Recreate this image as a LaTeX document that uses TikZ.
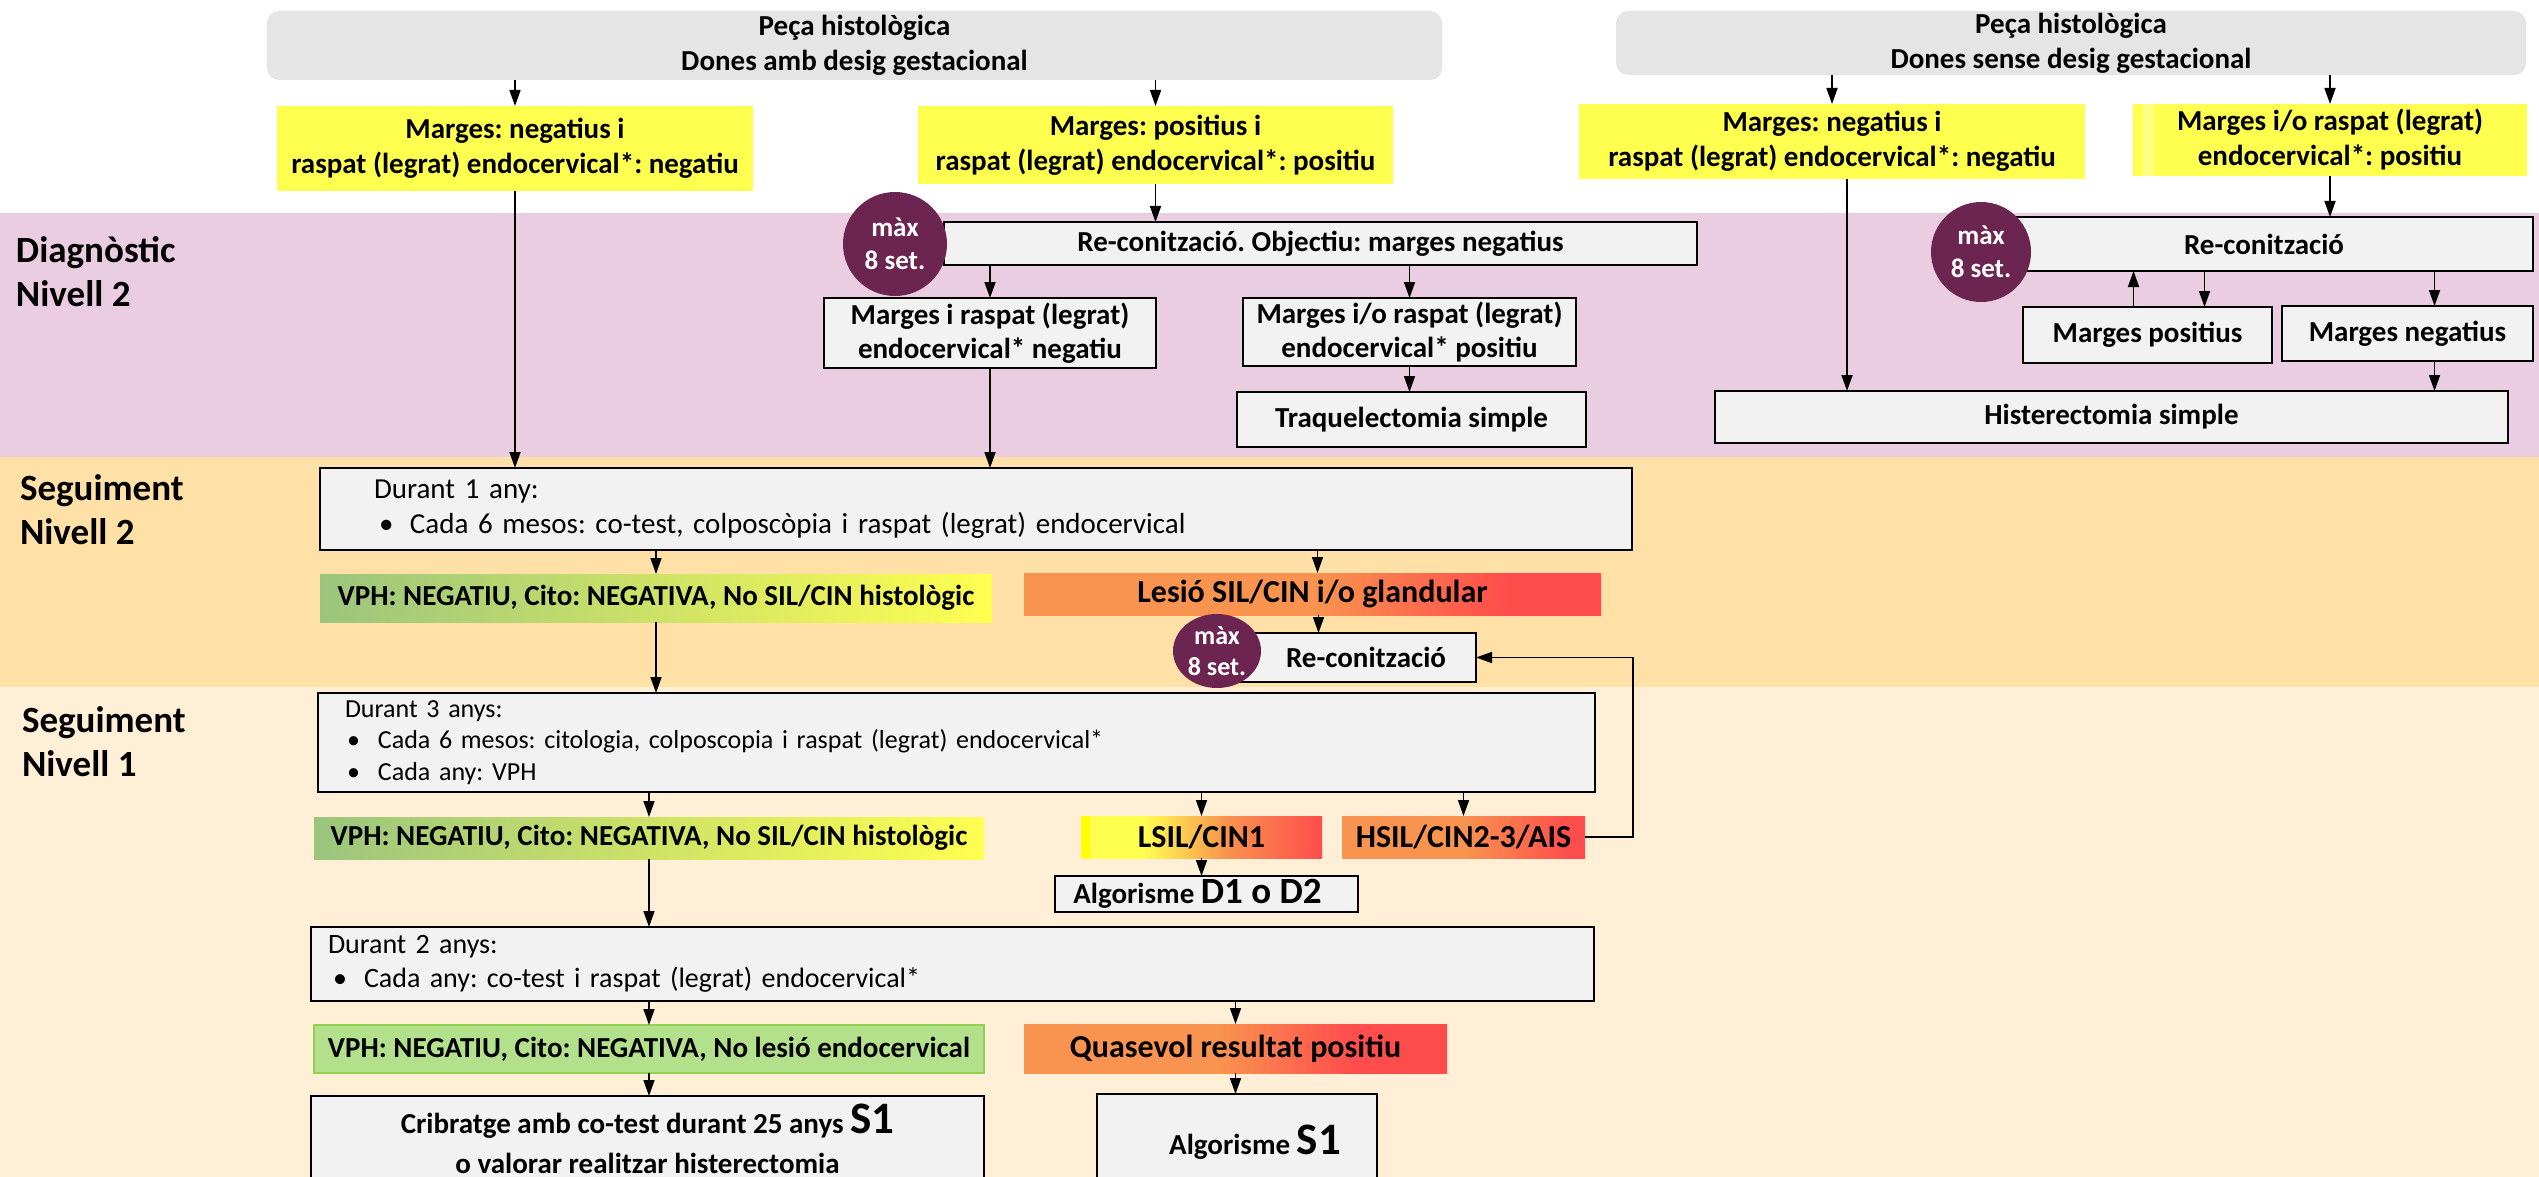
\documentclass[tikz,border=0pt]{standalone}
\usepackage{fontspec}
\setmainfont{Carlito}
\usetikzlibrary{arrows.meta,shapes.geometric}

% palette
\definecolor{bandpink}{HTML}{EBCDE2}
\definecolor{bandorange}{HTML}{FFE0A6}
\definecolor{bandcream}{HTML}{FFEFD7}
\definecolor{headgray}{HTML}{E5E5E5}
\definecolor{boxgray}{HTML}{F2F2F2}
\definecolor{hlyellow}{HTML}{FFFF50}
\definecolor{stripeyellow}{HTML}{FFFF88}
\definecolor{pureyellow}{HTML}{FFFF00}
\definecolor{plum}{HTML}{6B2550}
\definecolor{okgreen}{HTML}{9BC57E}
\definecolor{lightgreen}{HTML}{B3E08A}
\definecolor{greenedge}{HTML}{92D050}
\definecolor{warnorange}{HTML}{F8944F}
\definecolor{alertred}{HTML}{FF4C4C}

% horizontal colour ramps (the path spans 25bp..75bp)
\pgfdeclarehorizontalshading{greentoyellow}{100bp}{color(0bp)=(okgreen); color(25bp)=(okgreen); color(75bp)=(hlyellow); color(100bp)=(hlyellow)}
\pgfdeclarehorizontalshading{lesioramp}{100bp}{color(0bp)=(warnorange); color(25bp)=(warnorange); color(50bp)=(warnorange); color(67bp)=(alertred); color(100bp)=(alertred)}
\pgfdeclarehorizontalshading{lsilramp}{100bp}{color(0bp)=(hlyellow); color(25bp)=(hlyellow); color(38bp)=(hlyellow); color(55bp)=(warnorange); color(75bp)=(alertred); color(100bp)=(alertred)}
\pgfdeclarehorizontalshading{hsilramp}{100bp}{color(0bp)=(warnorange); color(25bp)=(warnorange); color(50bp)=(warnorange); color(72bp)=(alertred); color(100bp)=(alertred)}
\pgfdeclarehorizontalshading{quasramp}{100bp}{color(0bp)=(warnorange); color(25bp)=(warnorange); color(48bp)=(warnorange); color(64bp)=(alertred); color(100bp)=(alertred)}

\tikzset{
  every node/.style={inner sep=0pt, outer sep=0pt},
  txt/.style={font=\bfseries\fontsize{29}{35}\selectfont, align=center},
  headbox/.style={txt, fill=headgray, rounded corners=12pt},
  yelbox/.style={txt, fill=hlyellow},
  stepbox/.style={txt, fill=boxgray, draw=black, line width=2.5pt},
  listbox/.style={fill=boxgray, draw=black, line width=2.5pt, align=left},
  waitmark/.style={fill=plum, text=white, align=center, inner sep=0pt,
    font=\bfseries\fontsize{27}{33}\selectfont},
  resbox/.style={txt},
  alarmbox/.style={txt, font=\bfseries\fontsize{32}{36}\selectfont},
  levellabel/.style={anchor=west, align=left, font=\bfseries\fontsize{37}{44}\selectfont},
  arr/.style={line width=1.6pt, -{Triangle[length=16pt,width=11pt]}},
}

\newcommand{\itembul}{\makebox[31pt][l]{\textbullet}}

\begin{document}
\frenchspacing
\begin{tikzpicture}[x=1pt, y=-1pt]
\useasboundingbox (0,0) rectangle (2539,1177);
\clip (0,0) rectangle (2539,1177);

% level bands
\fill[white] (0,0) rectangle (2539,213);
\fill[bandpink] (0,213) rectangle (2539,457);
\fill[bandorange] (0,457) rectangle (2539,687);
\fill[bandcream] (0,687) rectangle (2539,1177);

\node[levellabel] (lvdiag) at (16,271.5) {Diagnòstic\\Nivell 2};
\node[levellabel] (lvseg2) at (20,510) {Seguiment\\Nivell 2};
\node[levellabel] (lvseg1) at (22,742) {Seguiment\\Nivell 1};

% ---- header boxes
\node[headbox, minimum width=1175pt, minimum height=69pt] (g1) at (854.5,45.5) {Peça histològica\\Dones amb desig gestacional};
\node[headbox, minimum width=910pt, minimum height=64pt] (g2) at (2071,43) {Peça histològica\\Dones sense desig gestacional};

% ---- margin results
\node[yelbox, minimum width=476pt, minimum height=85pt] (y1) at (515,148.5) {Marges: negatius i\\raspat (legrat) endocervical*: negatiu};
\node[yelbox, minimum width=475pt, minimum height=78pt] (y2) at (1155.5,145) {Marges: positius i\\raspat (legrat) endocervical*: positiu};
\node[yelbox, minimum width=506pt, minimum height=75pt] (y3) at (1832,141.5) {Marges: negatius i\\raspat (legrat) endocervical*: negatiu};
\fill[hlyellow] (2133,104) rectangle (2527,176);
\fill[stripeyellow] (2143,104) rectangle (2153,176);
\node[txt, minimum width=394pt, minimum height=72pt] (y4) at (2330,140) {Marges i/o raspat (legrat)\\endocervical*: positiu};

% ---- diagnosis, women with pregnancy wish
\node[stepbox, minimum width=753pt, minimum height=43pt] (rc1) at (1320.5,243.5) {Re-conització. Objectiu: marges negatius};
\node[stepbox, minimum width=332pt, minimum height=70pt, font=\bfseries\fontsize{29}{34}\selectfont] (mn1) at (990,333) {Marges i raspat (legrat)\\endocervical* negatiu};
\node[stepbox, minimum width=333pt, minimum height=68pt, font=\bfseries\fontsize{29}{34}\selectfont] (mp1) at (1409.5,332) {Marges i/o raspat (legrat)\\endocervical* positiu};
\node[stepbox, minimum width=349pt, minimum height=55pt] (tr) at (1411.5,419.5) {Traquelectomia simple};

% ---- diagnosis, women without pregnancy wish
\node[stepbox, minimum width=538pt, minimum height=54pt] (rc2) at (2264,244) {Re-conització};
\node[stepbox, minimum width=249pt, minimum height=56pt] (mpos) at (2147.5,335) {Marges positius};
\node[stepbox, minimum width=251pt, minimum height=55pt] (mneg) at (2407.5,333.5) {Marges negatius};
\node[stepbox, minimum width=793pt, minimum height=52pt] (hist) at (2111.5,417) {Histerectomia simple};

% ---- follow-up level 2
\node[listbox, minimum width=1312pt, minimum height=82pt, inner xsep=54pt, text width=1204pt,
      font=\fontsize{29}{35}\selectfont] (dur1) at (976,509)
  {Durant 1 any:\\\hspace*{5pt}\itembul Cada 6 mesos: co-test, colposcòpia i raspat (legrat) endocervical};
\node[resbox, shading=greentoyellow, shade, minimum width=672pt, minimum height=48pt] (vph1) at (656,598) {VPH: NEGATIU, Cito: NEGATIVA, No SIL/CIN histològic};
\node[alarmbox, shading=lesioramp, shade, minimum width=577pt, minimum height=42pt] (lesio) at (1312.5,594) {Lesió SIL/CIN i/o glandular};
\node[stepbox, minimum width=236pt, minimum height=49pt] (rc3) at (1358,657.5) {\hspace*{16pt}Re-conització};

% ---- follow-up level 1
\node[listbox, minimum width=1277pt, minimum height=99pt, inner xsep=27pt, text width=1223pt,
      font=\fontsize{26}{31.5}\selectfont] (dur3) at (956.5,742.5)
  {Durant 3 anys:\\\hspace*{2pt}\itembul Cada 6 mesos: citologia, colposcopia i raspat (legrat) endocervical*\\\hspace*{2pt}\itembul Cada any: VPH};
\node[resbox, shading=greentoyellow, shade, minimum width=670pt, minimum height=42pt] (vph2) at (649,838) {VPH: NEGATIU, Cito: NEGATIVA, No SIL/CIN histològic};
\node[alarmbox, shading=lsilramp, shade, minimum width=241pt, minimum height=42pt] (lsil) at (1201.5,837) {LSIL/CIN1};
\fill[pureyellow] (1081,816) rectangle (1090,858);
\node[alarmbox, shading=hsilramp, shade, minimum width=243pt, minimum height=42pt] (hsil) at (1463.5,837) {HSIL/CIN2-3/AIS};
\node[stepbox, minimum width=303pt, minimum height=36pt] (alg) at (1206.5,894) {Algorisme {\fontsize{37}{37}\selectfont D1 o D2}\hspace*{18pt}};

\node[listbox, minimum width=1283pt, minimum height=74pt, inner xsep=17pt, text width=1249pt,
      font=\fontsize{28}{34}\selectfont] (dur2) at (952.5,964)
  {Durant 2 anys:\\\hspace*{5pt}\itembul Cada any: co-test i raspat (legrat) endocervical*};
\node[resbox, fill=lightgreen, draw=greenedge, line width=1.5pt, minimum width=670pt, minimum height=48pt] (vph3) at (649,1049) {VPH: NEGATIU, Cito: NEGATIVA, No lesió endocervical};
\node[alarmbox, shading=quasramp, shade, minimum width=423pt, minimum height=49pt] (quas) at (1235.5,1048.5) {Quasevol resultat positiu};
\node[stepbox, minimum width=673pt, minimum height=94pt, font=\bfseries\fontsize{29}{40}\selectfont] (crib) at (647.5,1143)
  {Cribratge amb co-test durant 25 anys \smash{\fontsize{45}{45}\selectfont S1}\\o valorar realitzar histerectomia};
\node[stepbox, minimum width=280pt, minimum height=96pt] (algs1) at (1237,1142) {\hspace*{36pt}Algorisme {\fontsize{45}{45}\selectfont S1}};

% ---- time-limit marks
\node[waitmark, circle, minimum size=104pt] (c1) at (895,244) {màx\\8 set.};
\node[waitmark, circle, minimum size=100pt] (c2) at (1981,252) {màx\\8 set.};
\node[waitmark, ellipse, minimum width=88pt, minimum height=74pt, font=\bfseries\fontsize{26}{31}\selectfont] (c3) at (1217,651) {màx\\8 set.};

% ---- connectors
\draw[arr] (y1.north |- g1.south) -- (y1.north);
\draw[arr] (y2.north |- g1.south) -- (y2.north);
\draw[arr] (y2.south) -- (y2.south |- rc1.north);
\draw[arr] (y1.south) -- (y1.south |- dur1.north);
\draw[arr] (mn1.north |- rc1.south) -- (mn1.north);
\draw[arr] (mp1.north |- rc1.south) -- (mp1.north);
\draw[arr] (mp1.south) -- (mp1.south |- tr.north);
\draw[arr] (mn1.south) -- (mn1.south |- dur1.north);

\draw[arr] (y3.north |- g2.south) -- (y3.north);
\draw[arr] (y4.north |- g2.south) -- (y4.north);
\draw[arr] ([xshift=15pt]y3.south) -- ([xshift=15pt]y3.south |- hist.north);
\draw[arr] (y4.south) -- (y4.south |- rc2.north);
\draw[arr] ([xshift=-14pt]mpos.north) -- ([xshift=-14pt]mpos.north |- rc2.south);
\draw[arr] ([xshift=57pt]mpos.north |- rc2.south) -- ([xshift=57pt]mpos.north);
\draw[arr] ([xshift=27pt]mneg.north |- rc2.south) -- ([xshift=27pt]mneg.north);
\draw[arr] ([xshift=27pt]mneg.south) -- ([xshift=27pt]mneg.south |- hist.north);

\draw[arr] (vph1.north |- dur1.south) -- (vph1.north);
\draw[arr] ([xshift=5pt]lesio.north |- dur1.south) -- ([xshift=5pt]lesio.north);
\draw[arr] ([xshift=6pt]lesio.south) -- ([xshift=6pt]lesio.south |- rc3.north);
\draw[arr] (vph1.south) -- (vph1.south |- dur3.north);

\draw[arr] (vph2.north |- dur3.south) -- (vph2.north);
\draw[arr] (lsil.north |- dur3.south) -- (lsil.north);
\draw[arr] (hsil.north |- dur3.south) -- (hsil.north);
\draw[arr] (hsil.east) -- ++(48pt,0) |- (rc3.east);
\draw[arr] (lsil.south) -- (lsil.south |- alg.north);
\draw[arr] (vph2.south) -- (vph2.south |- dur2.north);

\draw[arr] (vph3.north |- dur2.south) -- (vph3.north);
\draw[arr] (quas.north |- dur2.south) -- (quas.north);
\draw[arr] (vph3.south) -- (vph3.south |- crib.north);
\draw[arr] (quas.south) -- (quas.south |- algs1.north);
\end{tikzpicture}
\end{document}
